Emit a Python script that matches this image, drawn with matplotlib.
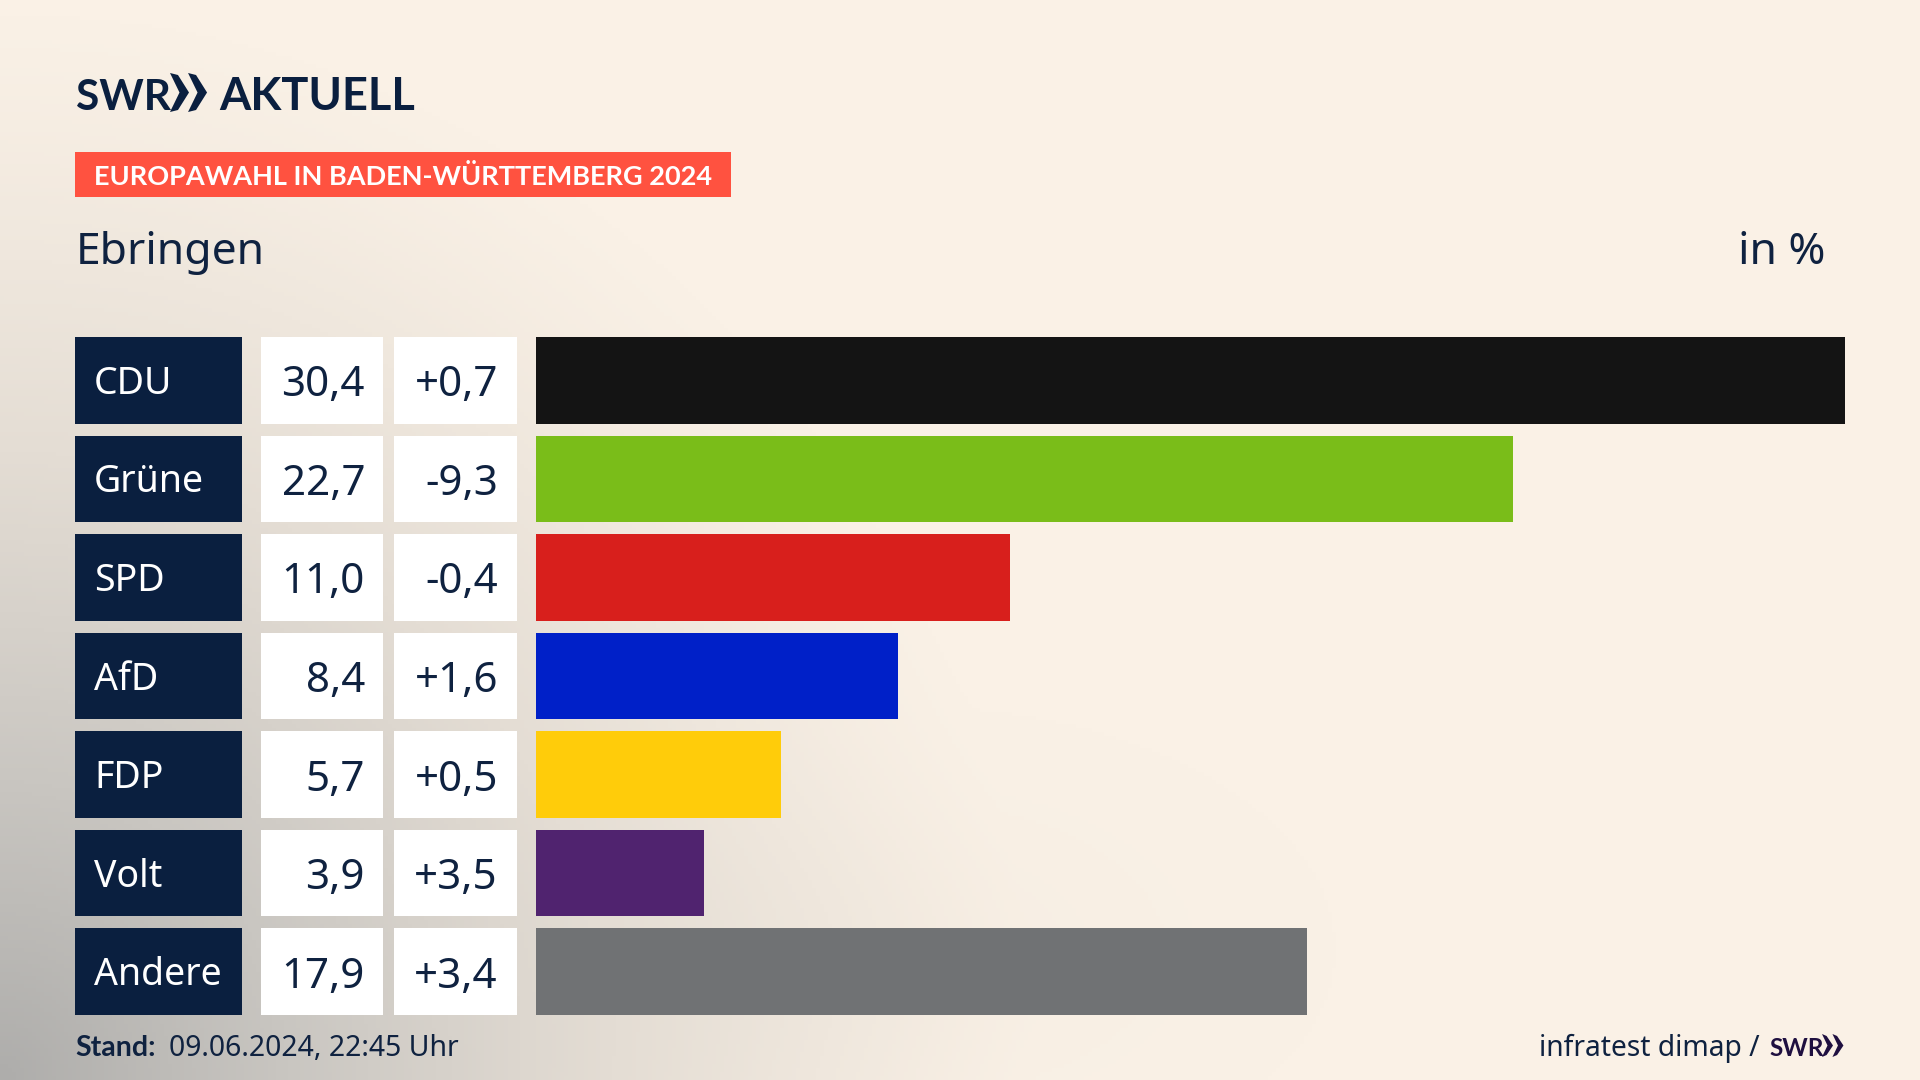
import numpy as np
from matplotlib import pyplot as plt
from matplotlib.colors import LinearSegmentedColormap
from matplotlib.patches import Polygon

parties = ['CDU', 'Grüne', 'SPD', 'AfD', 'FDP', 'Volt', 'Andere']
shares = [30.4, 22.7, 11.0, 8.4, 5.7, 3.9, 17.9]
changes = [0.7, -9.3, -0.4, 1.6, 0.5, 3.5, 3.4]
colors = ['#141414', '#7abd19', '#d81f1c', '#0020c8', '#ffcc0a', '#50236f', '#707274']

NAVY = '#0a1f3f'
TXT = '#0f2240'
W, H = 1920, 1080
SANS = ['Noto Sans', 'DejaVu Sans']
BOLD = ['Lato', 'DejaVu Sans']

def px_axes(fig, x0, y0, x1, y1):
    # axes from pixel box, y counted from the top
    return fig.add_axes([x0/W, 1-y1/H, (x1-x0)/W, (y1-y0)/H])

def chevrons(ax, x, y0, y1, w, color):
    # the two SWR arrows
    ym = (y0+y1)/2.0
    for dx in [0, w*0.95]:
        ax.add_patch(Polygon([[x+dx, y0], [x+dx+w*0.42, y0+2], [x+dx+w, ym],
                              [x+dx+w*0.42, y1-2], [x+dx, y1], [x+dx+w*0.5, ym]],
                             fc=color, ec='none'))

fig = plt.figure(figsize=(19.2, 10.8), dpi=100)

# background
bg = fig.add_axes([0, 0, 1, 1])
yy, xx = np.mgrid[0:1:270j, 0:1:480j]
shade = np.clip(1.0 - np.hypot(xx/0.54, (1-yy)/1.0), 0, 1)**1.25
shade = shade + 0.05*np.exp(-((xx-0.47)**2/0.02 + (yy-0.88)**2/0.02))
cmap = LinearSegmentedColormap.from_list('bg', ['#faf1e6', '#e4ddd4', '#c9c6c1', '#aeadab'])
bg.imshow(shade, cmap=cmap, vmin=0, vmax=1, aspect='auto', extent=[0, W, H, 0])
bg.set_xlim(0, W)
bg.set_ylim(H, 0)
bg.axis('off')

# header
bg.text(76, 110, 'SWR', fontsize=30.5, fontweight='bold', family=BOLD, color=NAVY, va='baseline')
chevrons(bg, 170, 73, 112, 19, NAVY)
bg.text(219, 110, 'AKTUELL', fontsize=32.5, fontweight='bold', family=BOLD, color=NAVY, va='baseline')
bg.fill_between([75, 731], 152, 197, color='#ff5240', lw=0)
bg.text(94, 185, 'EUROPAWAHL IN BADEN-WÜRTTEMBERG 2024', fontsize=19.5, fontweight='bold',
        family=BOLD, color='white', va='baseline')
bg.text(76, 264, 'Ebringen', fontsize=32, family=SANS, color=TXT, va='baseline')
bg.text(1825, 264, 'in %', fontsize=32, family=SANS, color=TXT, va='baseline', ha='right')

# footer
bg.text(75, 1056, 'Stand:', fontsize=20.5, fontweight='bold', family=BOLD, color=TXT, va='baseline')
bg.text(169, 1056, '09.06.2024, 22:45 Uhr', fontsize=20.4, family=SANS, color=TXT, va='baseline')
bg.text(1760, 1056, 'infratest dimap /', fontsize=20.3, family=SANS, color=TXT, va='baseline', ha='right')
bg.text(1769, 1056, 'SWR', fontsize=17.5, fontweight='bold', family=BOLD, color='#1f1040', va='baseline')
chevrons(bg, 1822, 1034, 1057, 11, '#1f1040')

# table cells and bars share the row positions
pos = np.arange(len(parties))
lo, hi = -0.44, len(parties)-1+0.44

tab = px_axes(fig, 75, 337, 517, 1015)
tab.barh(pos, [167]*7, left=0, height=0.88, color=NAVY)
tab.barh(pos, [122]*7, left=186, height=0.88, color='white')
tab.barh(pos, [123]*7, left=319, height=0.88, color='white')
tab.set_xlim(0, 442)
tab.set_ylim(hi, lo)
tab.axis('off')
for i in pos:
    tab.text(19, i-0.01, parties[i], fontsize=27, family=SANS, color='white', va='center_baseline')
    tab.text(290, i, ('%.1f' % shares[i]).replace('.', ','), fontsize=30.3, family=SANS,
             color=TXT, va='center_baseline', ha='right')
    tab.text(423, i, ('%+.1f' % changes[i]).replace('.', ','), fontsize=30.3, family=SANS,
             color=TXT, va='center_baseline', ha='right')

ax = px_axes(fig, 536, 337, 1845, 1015)
ax.barh(pos, shares, height=0.88, color=colors)
ax.set_xlim(0, 30.4)
ax.set_ylim(hi, lo)
ax.axis('off')

plt.savefig('out.png', dpi=100)
